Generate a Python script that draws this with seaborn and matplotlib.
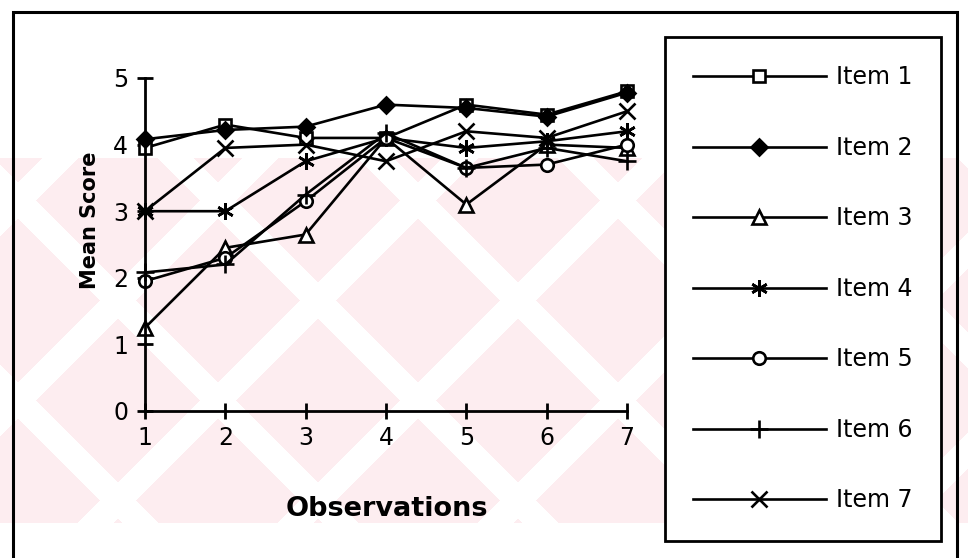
import numpy as np
import pandas as pd
import seaborn as sns
import matplotlib
matplotlib.use("Agg")
import matplotlib.pyplot as plt
from matplotlib.patches import Rectangle

# Mean score per item across seven observations
observations = [1, 2, 3, 4, 5, 6, 7]
item_1 = [3.95, 4.30, 4.10, 4.10, 4.60, 4.45, 4.80]
item_2 = [4.08, 4.22, 4.27, 4.60, 4.55, 4.42, 4.78]
item_3 = [1.25, 2.45, 2.65, 4.10, 3.10, 4.00, 3.95]
item_4 = [3.00, 3.00, 3.75, 4.10, 3.95, 4.05, 4.20]
item_5 = [1.95, 2.30, 3.15, 4.10, 3.65, 3.70, 4.00]
item_6 = [2.08, 2.20, 3.25, 4.17, 3.65, 3.95, 3.75]
item_7 = [3.00, 3.95, 4.00, 3.75, 4.20, 4.10, 4.50]

item_names = ["Item 1", "Item 2", "Item 3", "Item 4", "Item 5", "Item 6", "Item 7"]
item_values = [item_1, item_2, item_3, item_4, item_5, item_6, item_7]
y_ticks = [0, 1, 2, 3, 4, 5]

df = pd.DataFrame({
    "Observations": np.tile(observations, len(item_names)),
    "Mean Score": np.concatenate(item_values),
    "Item": np.repeat(item_names, len(observations)),
})

# marker, face colour, size for each item
marker_styles = {
    "Item 1": ("s", "white", 9),
    "Item 2": ("D", "black", 8),
    "Item 3": ("^", "white", 10),
    "Item 4": ((6, 2, 0), "black", 12),
    "Item 5": ("o", "white", 9),
    "Item 6": ("+", "black", 13),
    "Item 7": ("x", "black", 11),
}

W, H = 968, 558
fig = plt.figure(figsize=(W / 100, H / 100), dpi=100)
fig.patch.set_facecolor("white")

# faint pink diagonal lattice in the background
yy, xx = np.mgrid[0:H, 0:W]
period, gap = 200, 36
white = (((xx + yy) % period) < gap) | (((xx - yy) % period) < gap)
band = (yy >= 158) & (yy <= 522)
img = np.ones((H, W, 3))
pink = np.array([253, 237, 240]) / 255.0
img[band & ~white] = pink
bg = fig.add_axes([0, 0, 1, 1], zorder=-10)
bg.imshow(img, aspect="auto", interpolation="nearest")
bg.axis("off")

# outer frame
fig.patches.append(Rectangle((13 / W, -0.05), (957 - 13) / W, 1.05 - 12 / H,
                             transform=fig.transFigure, fill=False,
                             edgecolor="black", linewidth=2.2, zorder=5))

left, right, bottom_px, top_px = 145, 627, 411, 78
ax = fig.add_axes([left / W, 1 - bottom_px / H, (right - left) / W, (bottom_px - top_px) / H])
ax.patch.set_alpha(0)

for name in item_names:
    mk, fc, ms = marker_styles[name]
    sub = df[df["Item"] == name]
    sns.lineplot(data=sub, x="Observations", y="Mean Score", ax=ax,
                 color="black", linewidth=1.9, marker=mk, markersize=ms,
                 markerfacecolor=fc, markeredgecolor="black", markeredgewidth=1.9,
                 clip_on=False, label=name, legend=False)

ax.set_xlim(1, 7)
ax.set_ylim(0, 5)
ax.set_xticks(observations)
ax.set_yticks(y_ticks)
for side in ["top", "right"]:
    ax.spines[side].set_visible(False)
for side in ["left", "bottom"]:
    ax.spines[side].set_linewidth(2)
    ax.spines[side].set_color("black")
ax.tick_params(axis="both", direction="inout", length=12, width=2,
               labelsize=17, colors="black", pad=6)
ax.tick_params(axis="x", pad=5)
ax.set_xlabel("Observations", fontsize=19.5, fontweight="bold")
ax.xaxis.set_label_coords((387 - left) / (right - left), -(496 - bottom_px) / (bottom_px - top_px))
ax.set_ylabel("Mean Score", fontsize=15, fontweight="heavy")
ax.yaxis.set_label_coords((100 - left) / (right - left), (bottom_px - 220) / (bottom_px - top_px))

handles = ax.get_lines()
leg = ax.legend(handles, item_names, loc="upper left",
                bbox_to_anchor=(665 / W, 1 - 37 / H), bbox_transform=fig.transFigure,
                borderaxespad=0, fontsize=17, handlelength=5.6, handletextpad=0.45,
                labelspacing=1.97, borderpad=1.2, fancybox=False, frameon=True)
leg.get_frame().set_edgecolor("black")
leg.get_frame().set_linewidth(2)
leg.get_frame().set_facecolor("white")
leg.get_frame().set_alpha(1)

fig.savefig("out.png", dpi=100)
